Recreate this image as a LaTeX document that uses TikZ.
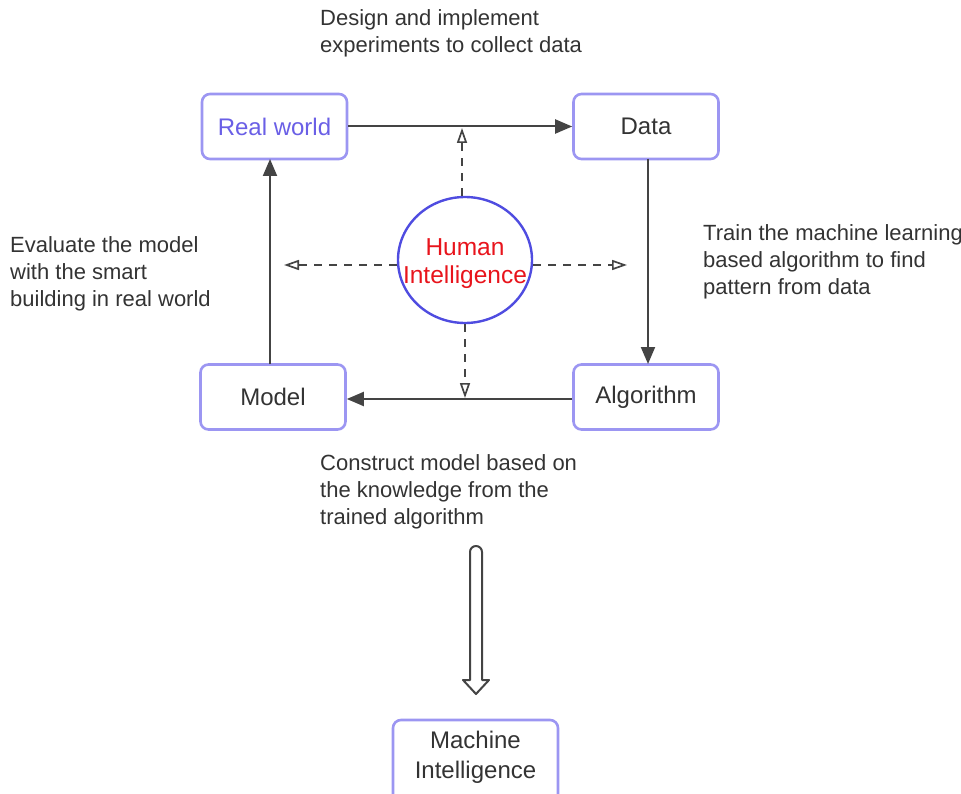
\documentclass[tikz,border=0pt]{standalone}
\usepackage{fontspec}
\setmainfont{Liberation Sans}
\usetikzlibrary{arrows.meta,shapes.geometric}
\definecolor{boxline}{HTML}{9C96F2}
\definecolor{ringline}{HTML}{4F4CE0}
\definecolor{rwtext}{HTML}{6A5FE6}
\definecolor{inktext}{HTML}{333333}
\definecolor{linkgray}{HTML}{444444}
\definecolor{hired}{HTML}{E8141C}
\tikzset{
  stage/.style={draw=boxline, line width=2.6pt, rounded corners=8pt, fill=white,
    minimum width=145pt, minimum height=65pt, text=inktext,
    font=\fontsize{24}{29}\selectfont, align=center, inner sep=0pt},
  note/.style={text=inktext, font=\fontsize{22}{27}\selectfont, align=left,
    anchor=north west, inner sep=0pt},
  flow/.style={draw=linkgray, line width=2pt, -{Triangle[length=17pt,width=14pt]}},
  hint/.style={draw=linkgray, line width=1.7pt, dash pattern=on 8pt off 7pt,
    -{Triangle[open,length=15pt,width=10pt,line width=1.7pt]}},
}
\begin{document}
\begin{tikzpicture}[x=1pt,y=-1pt]
\useasboundingbox (0,0) rectangle (961,794);
\clip (0,0) rectangle (961,794);

% the four stages of the cycle
\node[stage, text=rwtext] (real) at (274.5,126.5) {Real world};
\node[stage] (data) at (646,126.5) {Data};
\node[stage] (model) at (273,397) {Model};
\node[stage] (algo) at (646,397) {Algorithm};

% human intelligence in the middle
\node[ellipse, draw=ringline, line width=2.4pt, minimum width=134pt, minimum height=126pt,
  inner sep=0pt] (human) at (465,260) {};
\node[text=hired, font=\fontsize{24.5}{28}\selectfont, align=center, inner sep=0pt]
  (humantext) at (465,264) {Human\\Intelligence};

% machine intelligence below (its box runs past the lower edge)
\node[text=inktext, font=\fontsize{24}{30}\selectfont, align=center, inner sep=0pt]
  (machine) at (475.5,757) {Machine\\Intelligence};
\draw[draw=boxline, line width=2.6pt, rounded corners=8pt]
  ([shift={(-82.5,-37)}]machine.center) rectangle ([shift={(82.5,60)}]machine.center);

% cycle connectors
\draw[flow] (real.east) -- (data.west);
\draw[flow] (648,159) coordinate (d1) -- (648,364) coordinate (d2);
\draw[flow] (algo.west |- 0,399) coordinate (a1) -- (model.east |- 0,399) coordinate (a2);
\draw[flow] (270,364) coordinate (m1) -- (270,159) coordinate (m2);

% dashed hints from the circle
\coordinate (hup) at (462,128);
\coordinate (hleft) at (284,265);
\coordinate (hright) at (627,265);
\coordinate (hdown) at (465,398);
\draw[hint] (human.north -| hup) -- (hup);
\draw[hint] (human.west |- hleft) -- (hleft);
\draw[hint] (human.east |- hright) -- (hright);
\draw[hint] (human.south -| hdown) -- (hdown);

% hollow arrow towards machine intelligence
\coordinate (bigtip) at (476,694);
\draw[draw=linkgray, line width=2pt, line join=round, fill=white]
  (470,680) -- (470,552) arc[start angle=180, end angle=360, radius=6]
  -- (482,680) -- (489,680) -- (bigtip) -- (463,680) -- cycle;

% notes
\node[note] (n1) at (320,9) {Design and implement\\experiments to collect data};
\node[note] (n2) at (703,224) {Train the machine learning\\based algorithm to find\\pattern from data};
\node[note] (n3) at (10,236) {Evaluate the model\\with the smart\\building in real world};
\node[note] (n4) at (320,454) {Construct model based on\\the knowledge from the\\trained algorithm};
\end{tikzpicture}
\end{document}
